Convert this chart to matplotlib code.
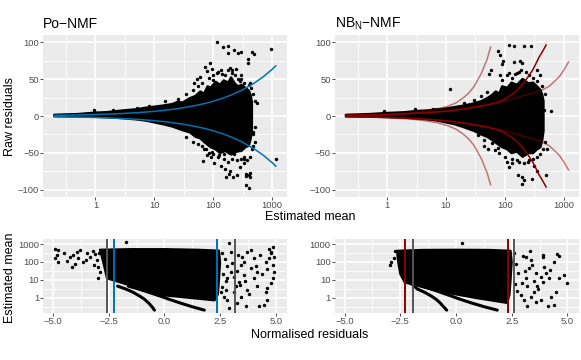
import matplotlib
matplotlib.use("Agg")
import matplotlib.pyplot as plt
import numpy as np

plt.rcParams['font.family'] = ['Liberation Sans', 'DejaVu Sans']
plt.rcParams['mathtext.fontset'] = 'custom'
plt.rcParams['mathtext.rm'] = 'Liberation Sans'
plt.rcParams['mathtext.it'] = 'Liberation Sans'

# ---------------- data ----------------
# top panels: raw residual vs estimated mean, dense cloud outline
po_env_mu = [0.2, 0.3, 0.5, 0.7, 1, 1.5, 2, 3, 5, 7, 10, 14, 20, 25, 30, 40, 50, 60, 70, 80,
             90, 110, 130, 150, 180, 200, 230, 260, 300, 350, 400, 430, 450]
po_env_hi = [1.5, 2, 2.5, 3.5, 4.5, 5, 6, 7.5, 9, 11, 12.5, 14, 16, 19, 18, 24, 27, 33, 30, 40,
             38, 46, 42, 48, 45, 52, 44, 40, 42, 38, 34, 28, 18]
po_lo_mu = [0.2, 0.5, 1, 2, 3, 5, 7, 10, 14, 20, 30, 40, 50, 60, 70, 90, 110, 130, 160, 200,
            250, 300, 350, 400, 430, 450]
po_lo = [-0.2, -0.5, -1, -2, -3, -4.5, -6, -8.5, -11, -14, -19, -22, -28, -30, -35, -42, -45,
         -50, -47, -52, -48, -47, -42, -40, -30, -18]
po_out_mu = [115, 146, 175, 175, 227, 266, 299, 383, 454, 484, 969, 89, 72, 78, 95, 115, 135,
             194, 207, 245, 47, 52, 60, 383, 553, 1135, 66, 78, 91, 104, 136, 123, 149, 160,
             194, 182, 212, 164, 252, 287, 327, 363, 398, 425, 363, 414, 363, 398, 221, 466, 518,
             0.95, 2, 5, 8, 15, 25, 35, 45, 55, 65, 35, 45, 55, 70, 85, 300, 330, 420, 470,
             85, 100, 120, 140, 160, 180, 210, 230, 260, 280, 100, 300, 330, 400, 430, 480, 500,
             480, 500, 450, 420, 380, 330, 290, 250, 210, 180, 150, 120, 100, 95, 75, 65]
po_out_res = [100, 93, 94, 85, 89, 85, 87, 77, 86, 84, 90, 71, 66, 61, 64, 58, 62,
              65, 62, 64, 45, 50, 53, 71, 17, -58, -61, -53, -55, -64, -67, -53, -51, -71,
              -75, -79, -82, -83, -80, -69, -64, -78, -80, -82, -81, -77, -93, -98, -51, -22, -35,
              7.5, 8, 11, 14, 20, 23, 30, 35, 40, 45, -28, -35, -38, -45, -50, 55, -58, 45, -40,
              52, 55, 60, 57, 55, 62, 58, 55, 50, 47, 48, 50, 45, 42, 38, 30, 20,
              -25, -15, -45, -55, -60, -55, -58, -60, -58, -62, -58, -55, -52, -48, -45, -40]
po_band_mu = [0.2, 0.3, 0.5, 0.7, 1, 1.5, 2, 3, 5, 7, 10, 15, 20, 30, 50, 70, 100, 150, 200,
              300, 500, 700, 1000, 1150]
po_band = [0.89, 1.1, 1.41, 1.67, 2, 2.45, 2.83, 3.46, 4.47, 5.29, 6.32, 7.75, 8.94, 10.95,
           14.14, 16.7, 20, 24.5, 28.3, 34.6, 44.7, 52.9, 63.2, 67.8]

nb_env_mu = [0.2, 0.5, 1, 2, 3, 5, 7, 10, 14, 20, 30, 40, 50, 60, 70, 80, 90, 110, 130, 160,
             200, 250, 300, 350, 400, 430, 450]
nb_env_hi = [1.5, 2.5, 4, 5, 6.5, 7.5, 9, 10, 12, 14, 17, 20, 24, 28, 33, 30, 40, 38, 45, 42,
             50, 44, 45, 40, 35, 28, 20]
nb_lo_mu = [0.2, 0.5, 1, 2, 3, 5, 7, 10, 14, 20, 30, 40, 50, 60, 70, 90, 110, 130, 160, 200,
            250, 300, 350, 400, 430, 450]
nb_lo = [-0.2, -0.5, -1, -2, -3, -4.5, -6, -8.5, -11, -15, -20, -25, -28, -32, -36, -42, -45,
         -50, -48, -55, -50, -50, -45, -42, -32, -20]
nb_out_mu = [119, 145, 207, 281, 77, 82, 90, 94, 57, 54, 82, 140, 181, 194, 174, 115, 149, 352,
             401, 11.7, 459, 614, 45, 52, 67, 107, 130, 159, 115, 166, 194, 207, 194, 289, 352,
             490, 524, 309, 253, 0.9, 3, 6, 20, 30, 40, 50, 35, 45, 60, 75,
             90, 110, 130, 160, 190, 230, 260, 300, 350, 420, 470,
             80, 100, 130, 170, 210, 250, 300, 350, 400, 450, 480]
nb_out_res = [96, 94, 95, 95, 88, 82, 70, 75, 62, 57, 55, 73, 75, 71, 60, 58, 57, 62,
              55, 36, 8, 7, -40, -44, -46, -62, -64, -60, -69, -80, -83, -87, -92, -85, -74,
              -80, -44, -67, -60, 7, 9, 10, 18, 22, 27, 32, -26, -33, -37, -43,
              48, 55, 52, 58, 62, 60, 55, 52, 47, 40, 30,
              -50, -55, -58, -62, -64, -62, -58, -55, -52, -45, -35]
nb_curve_mu = [0.2, 0.5, 1, 2, 5, 10, 20, 30, 50, 77, 100, 149, 200, 253, 300, 377, 440, 500]
nb_curve = [0.9, 1.4, 2, 2.9, 4.6, 6.6, 9.6, 12, 15, 19, 23, 32, 43, 54, 63, 79, 88, 96]
nb_lo_phi_mu = [0.2, 0.5, 1, 2, 3, 5, 7, 10.6, 15, 20, 25, 30, 40, 50, 57]
nb_lo_phi = [1.0, 1.6, 2.4, 3.6, 4.7, 7, 9, 13, 18, 25, 32, 40, 58, 77, 93]
nb_hi_phi_mu = [0.2, 0.5, 1, 2, 5, 10, 20, 50, 100, 200, 300, 400, 560, 700, 850, 1000, 1200]
nb_hi_phi = [0.9, 1.4, 2, 2.8, 4.5, 6.4, 9, 14.5, 20, 27, 31, 34, 40, 47, 54, 62, 73]

# bottom panels: estimated mean vs normalised residual
po_dense_x = [-2.9, -1.5, 0, 1.5, 2.45, 2.5, 2.45, 2.4, 2.25, 1.0, -0.2, -1.6, -2.58, -2.75]
po_dense_mu = [480, 520, 520, 480, 430, 100, 10, 1.5, 0.7, 1.0, 1.4, 5, 12, 100]
po_zero_x = [-0.45, -0.55, -0.71, -0.89, -1.1, -1.41, -1.73, -2.1]
po_zero_mu = [0.2, 0.3, 0.5, 0.8, 1.2, 2, 3, 4.4]
po_one_x = [1.79, 1.28, 0.71, 0.22, -0.18, -0.71, -1.15, -1.62]
po_one_mu = [0.2, 0.3, 0.5, 0.8, 1.2, 2, 3, 4.4]
po_scat_x = [-4.91, -4.76, -4.91, -4.76, -4.83, -4.38, -4.23, -4.16, -3.93, -3.86, -3.64, -3.78,
             -3.48, -3.33, -3.11, -3.03, -3.18, -2.88, -2.96, -2.73, -1.71,
             2.9, 4.85, 4.78, 4.93, 4.7, 4.55, 4.85, 4.93, 4.85, 4.78, 4.62, 4.55, 4.62, 4.47,
             4.25, 4.17, 4.02, 4.17, 3.87, 4.02, 3.87, 3.72, 3.5, 3.42, 3.57, 3.35, 3.72, 3.42,
             3.65, 3.27, 3.12, 3.2, 2.97, 2.82, 2.75, 2.67, 2.82, 2.9, 2.52,
             2.6, 2.7, 2.8, 2.65, 2.75, 2.6, 3.0, 3.05, 3.1, 3.3, 3.25, 3.4, 3.55, 3.6, 3.8,
             4.1, 4.3, 4.4, 4.6, 4.7, 4.8, -3.2, -3.5, -2.95, -3.0, -4.1, -4.5, -4.0]
po_scat_mu = [525, 460, 160, 102, 245, 112, 195, 54, 372, 159, 102, 460,
              302, 195, 264, 127, 67, 28, 12, 102, 1340,
              1100, 700, 370, 195, 160, 103, 67, 28, 12, 6.3, 3.3, 2.2, 0.74, 0.39,
              0.32, 4.2, 12, 28, 44, 160, 455, 370, 195, 67, 18.6, 7.8, 2.7, 1.15,
              0.32, 0.48, 2.2, 4.2, 28, 12, 2.7, 1.15, 0.74, 0.25, 2.2,
              300, 150, 60, 20, 8, 4, 350, 90, 15, 250, 30, 5, 100, 9, 1.5,
              60, 250, 20, 40, 500, 300, 400, 120, 300, 50, 250, 300, 80]

nb_dense_x = [-2.65, -1.5, 0, 1.5, 2.45, 2.5, 2.45, 2.4, 2.3, 1.0, 0, -1.0, -1.7, -2.3, -2.5, -2.6]
nb_dense_mu = [420, 470, 480, 470, 420, 100, 10, 1.5, 0.5, 0.9, 1.5, 2.6, 4.5, 7, 20, 100]
nb_zero_x = [-0.42, -0.55, -0.71, -0.89, -1.1, -1.41, -1.73, -2.0]
nb_zero_mu = [0.2, 0.3, 0.5, 0.8, 1.2, 2, 3, 6]
nb_one_x = [1.85, 1.3, 0.7, 0.2, -0.2, -0.7, -1.1, -1.5]
nb_one_mu = [0.2, 0.3, 0.5, 0.8, 1.2, 2, 3, 4.4]
nb_scat_x = [0.27, 4.55, 4.97, 4.85, 4.63, 4.4, 4.18, 4.25, 4.13, 4.4, 3.88, 3.95, 4.03, 3.8,
             3.88, 3.65, 3.5, 3.35, 3.58, 3.2, 3.35, 3.13, 3.28, 3.13, 2.98, 3.2, 2.9, 3.05,
             3.8, -2.95, -2.9, -2.8, -2.75,
             2.6, 2.7, 2.8, 2.65, 2.75, 3.0, 3.1, 3.3, 3.4, 3.6, 3.7, 3.9, 4.2, 4.5, 3.5, 4.6]
nb_scat_mu = [1100, 265, 6.3, 18.6, 12, 103, 12, 1.15, 0.35, 0.39, 195, 54, 23, 15,
              7.8, 4.2, 2.2, 1.15, 0.6, 0.32, 127, 195, 44, 12, 6.3, 4.2, 1.4, 0.74,
              0.74, 67, 100, 160, 400,
              300, 80, 25, 6, 2.5, 200, 30, 400, 70, 25, 3, 250, 35, 2, 8, 200]

po_vlines_grey = [-2.58, 3.15]
po_vlines_col = [-2.28, 2.37]
nb_vlines_grey = [-1.93, 2.6]
nb_vlines_col = [-2.28, 2.33]

BLUE = '#0072B2'
DRED = '#8B0000'
GREY = '#555555'

W, H = 581, 360
fig = plt.figure(figsize=(W / 100, H / 100), dpi=100)


def box(x0, y0, x1, y1):
    return [x0 / W, 1 - y1 / H, (x1 - x0) / W, (y1 - y0) / H]


def gg(ax):
    ax.set_facecolor('#EBEBEB')
    for s in ax.spines.values():
        s.set_visible(False)
    ax.grid(True, which='major', color='white', lw=1.1, zorder=0)
    ax.grid(True, which='minor', color='white', lw=0.55, zorder=0)
    ax.set_axisbelow(True)
    ax.tick_params(which='major', length=2.2, width=0.6, color='#333333',
                   labelsize=6.8, labelcolor='#4D4D4D', pad=0.6)
    ax.tick_params(which='minor', length=0)


def top_panel(ax):
    gg(ax)
    ax.set_xscale('log')
    ax.set_xlim(10 ** -0.89, 10 ** 3.25)
    ax.set_ylim(-109.5, 109.5)
    ax.set_xticks([1, 10, 100, 1000])
    ax.set_xticklabels(['1', '10', '100', '1000'])
    ax.set_xticks([10 ** -0.5, 10 ** 0.5, 10 ** 1.5, 10 ** 2.5], minor=True)
    ax.set_xticklabels([], minor=True)
    ax.set_yticks([-100, -50, 0, 50, 100])
    ax.set_yticklabels(['\u2212100', '\u221250', '0', '50', '100'])
    ax.set_yticks([-75, -25, 25, 75], minor=True)


def bottom_panel(ax):
    gg(ax)
    ax.set_yscale('log')
    ax.set_xlim(-5.45, 5.5)
    ax.set_ylim(10 ** -0.86, 10 ** 3.28)
    ax.set_xticks([-5, -2.5, 0, 2.5, 5])
    ax.set_xticklabels(['\u22125.0', '\u22122.5', '0.0', '2.5', '5.0'])
    ax.set_xticks([-3.75, -1.25, 1.25, 3.75], minor=True)
    ax.set_yticks([1, 10, 100, 1000])
    ax.set_yticklabels(['1', '10', '100', '1000'])
    ax.set_yticks([10 ** -0.5, 10 ** 0.5, 10 ** 1.5, 10 ** 2.5], minor=True)
    ax.set_yticklabels([], minor=True)


def cloud(ax, hi_mu, hi, lo_mu, lo):
    ax.fill(hi_mu + lo_mu[::-1], hi + lo[::-1], color='black', ec='black', lw=1.8,
            joinstyle='round', zorder=2)


# --- top left: Po-NMF
ax1 = fig.add_axes(box(43, 35, 287, 197))
top_panel(ax1)
cloud(ax1, po_env_mu, po_env_hi, po_lo_mu, po_lo)
ax1.scatter(po_out_mu, po_out_res, s=6, color='black', lw=0, zorder=2)
ax1.plot(po_band_mu, po_band, color=BLUE, lw=1.1, zorder=3)
ax1.plot(po_band_mu, [-v for v in po_band], color=BLUE, lw=1.1, zorder=3)

# --- top right: NB_N-NMF
ax2 = fig.add_axes(box(334.6, 35, 578.6, 197))
top_panel(ax2)
cloud(ax2, nb_env_mu, nb_env_hi, nb_lo_mu, nb_lo)
ax2.scatter(nb_out_mu, nb_out_res, s=6, color='black', lw=0, zorder=2)
for mu, c in [(nb_lo_phi_mu, nb_lo_phi), (nb_hi_phi_mu, nb_hi_phi)]:
    ax2.plot(mu, c, color=DRED, alpha=0.5, lw=1.1, zorder=3)
    ax2.plot(mu, [-v for v in c], color=DRED, alpha=0.5, lw=1.1, zorder=3)
ax2.plot(nb_curve_mu, nb_curve, color=DRED, lw=1.1, zorder=4)
ax2.plot(nb_curve_mu, [-v for v in nb_curve], color=DRED, lw=1.1, zorder=4)

# --- bottom left
ax3 = fig.add_axes(box(43, 239, 287, 313))
bottom_panel(ax3)
ax3.fill(po_dense_x, po_dense_mu, color='black', ec='black', lw=1.5, joinstyle='round', zorder=2)
ax3.plot(po_zero_x, po_zero_mu, color='black', lw=2.2, solid_capstyle='round', zorder=2)
ax3.plot(po_one_x, po_one_mu, color='black', lw=2.2, solid_capstyle='round', zorder=2)
ax3.scatter(po_scat_x, po_scat_mu, s=6, color='black', lw=0, zorder=2)
for v in po_vlines_grey:
    ax3.axvline(v, color=GREY, lw=1.4, zorder=3)
for v in po_vlines_col:
    ax3.axvline(v, color=BLUE, lw=1.4, zorder=3)

# --- bottom right
ax4 = fig.add_axes(box(334.6, 239, 578.6, 313))
bottom_panel(ax4)
ax4.fill(nb_dense_x, nb_dense_mu, color='black', ec='black', lw=1.5, joinstyle='round', zorder=2)
ax4.plot(nb_zero_x, nb_zero_mu, color='black', lw=2.2, solid_capstyle='round', zorder=2)
ax4.plot(nb_one_x, nb_one_mu, color='black', lw=2.2, solid_capstyle='round', zorder=2)
ax4.scatter(nb_scat_x, nb_scat_mu, s=6, color='black', lw=0, zorder=2)
for v in nb_vlines_grey:
    ax4.axvline(v, color=GREY, lw=1.4, zorder=3)
for v in nb_vlines_col:
    ax4.axvline(v, color=DRED, lw=1.4, zorder=3)

# titles and axis titles
fig.text(43 / W, 1 - 28 / H, 'Po\u2212NMF', fontsize=10, va='baseline', ha='left')
fig.text(335 / W, 1 - 28 / H, r'NB$_{\mathrm{N}}$' + '\u2212NMF', fontsize=10,
         va='baseline', ha='left')
fig.text(310 / W, 1 - 220 / H, 'Estimated mean', fontsize=9, ha='center', va='baseline')
fig.text(310 / W, 1 - 338 / H, 'Normalised residuals', fontsize=9, ha='center', va='baseline')
fig.text(10 / W, 1 - 116 / H, 'Raw residuals', fontsize=9, rotation=90, ha='center', va='center')
fig.text(10 / W, 1 - 278 / H, 'Estimated mean', fontsize=9, rotation=90, ha='center', va='center')

fig.savefig('out.png', dpi=100)
